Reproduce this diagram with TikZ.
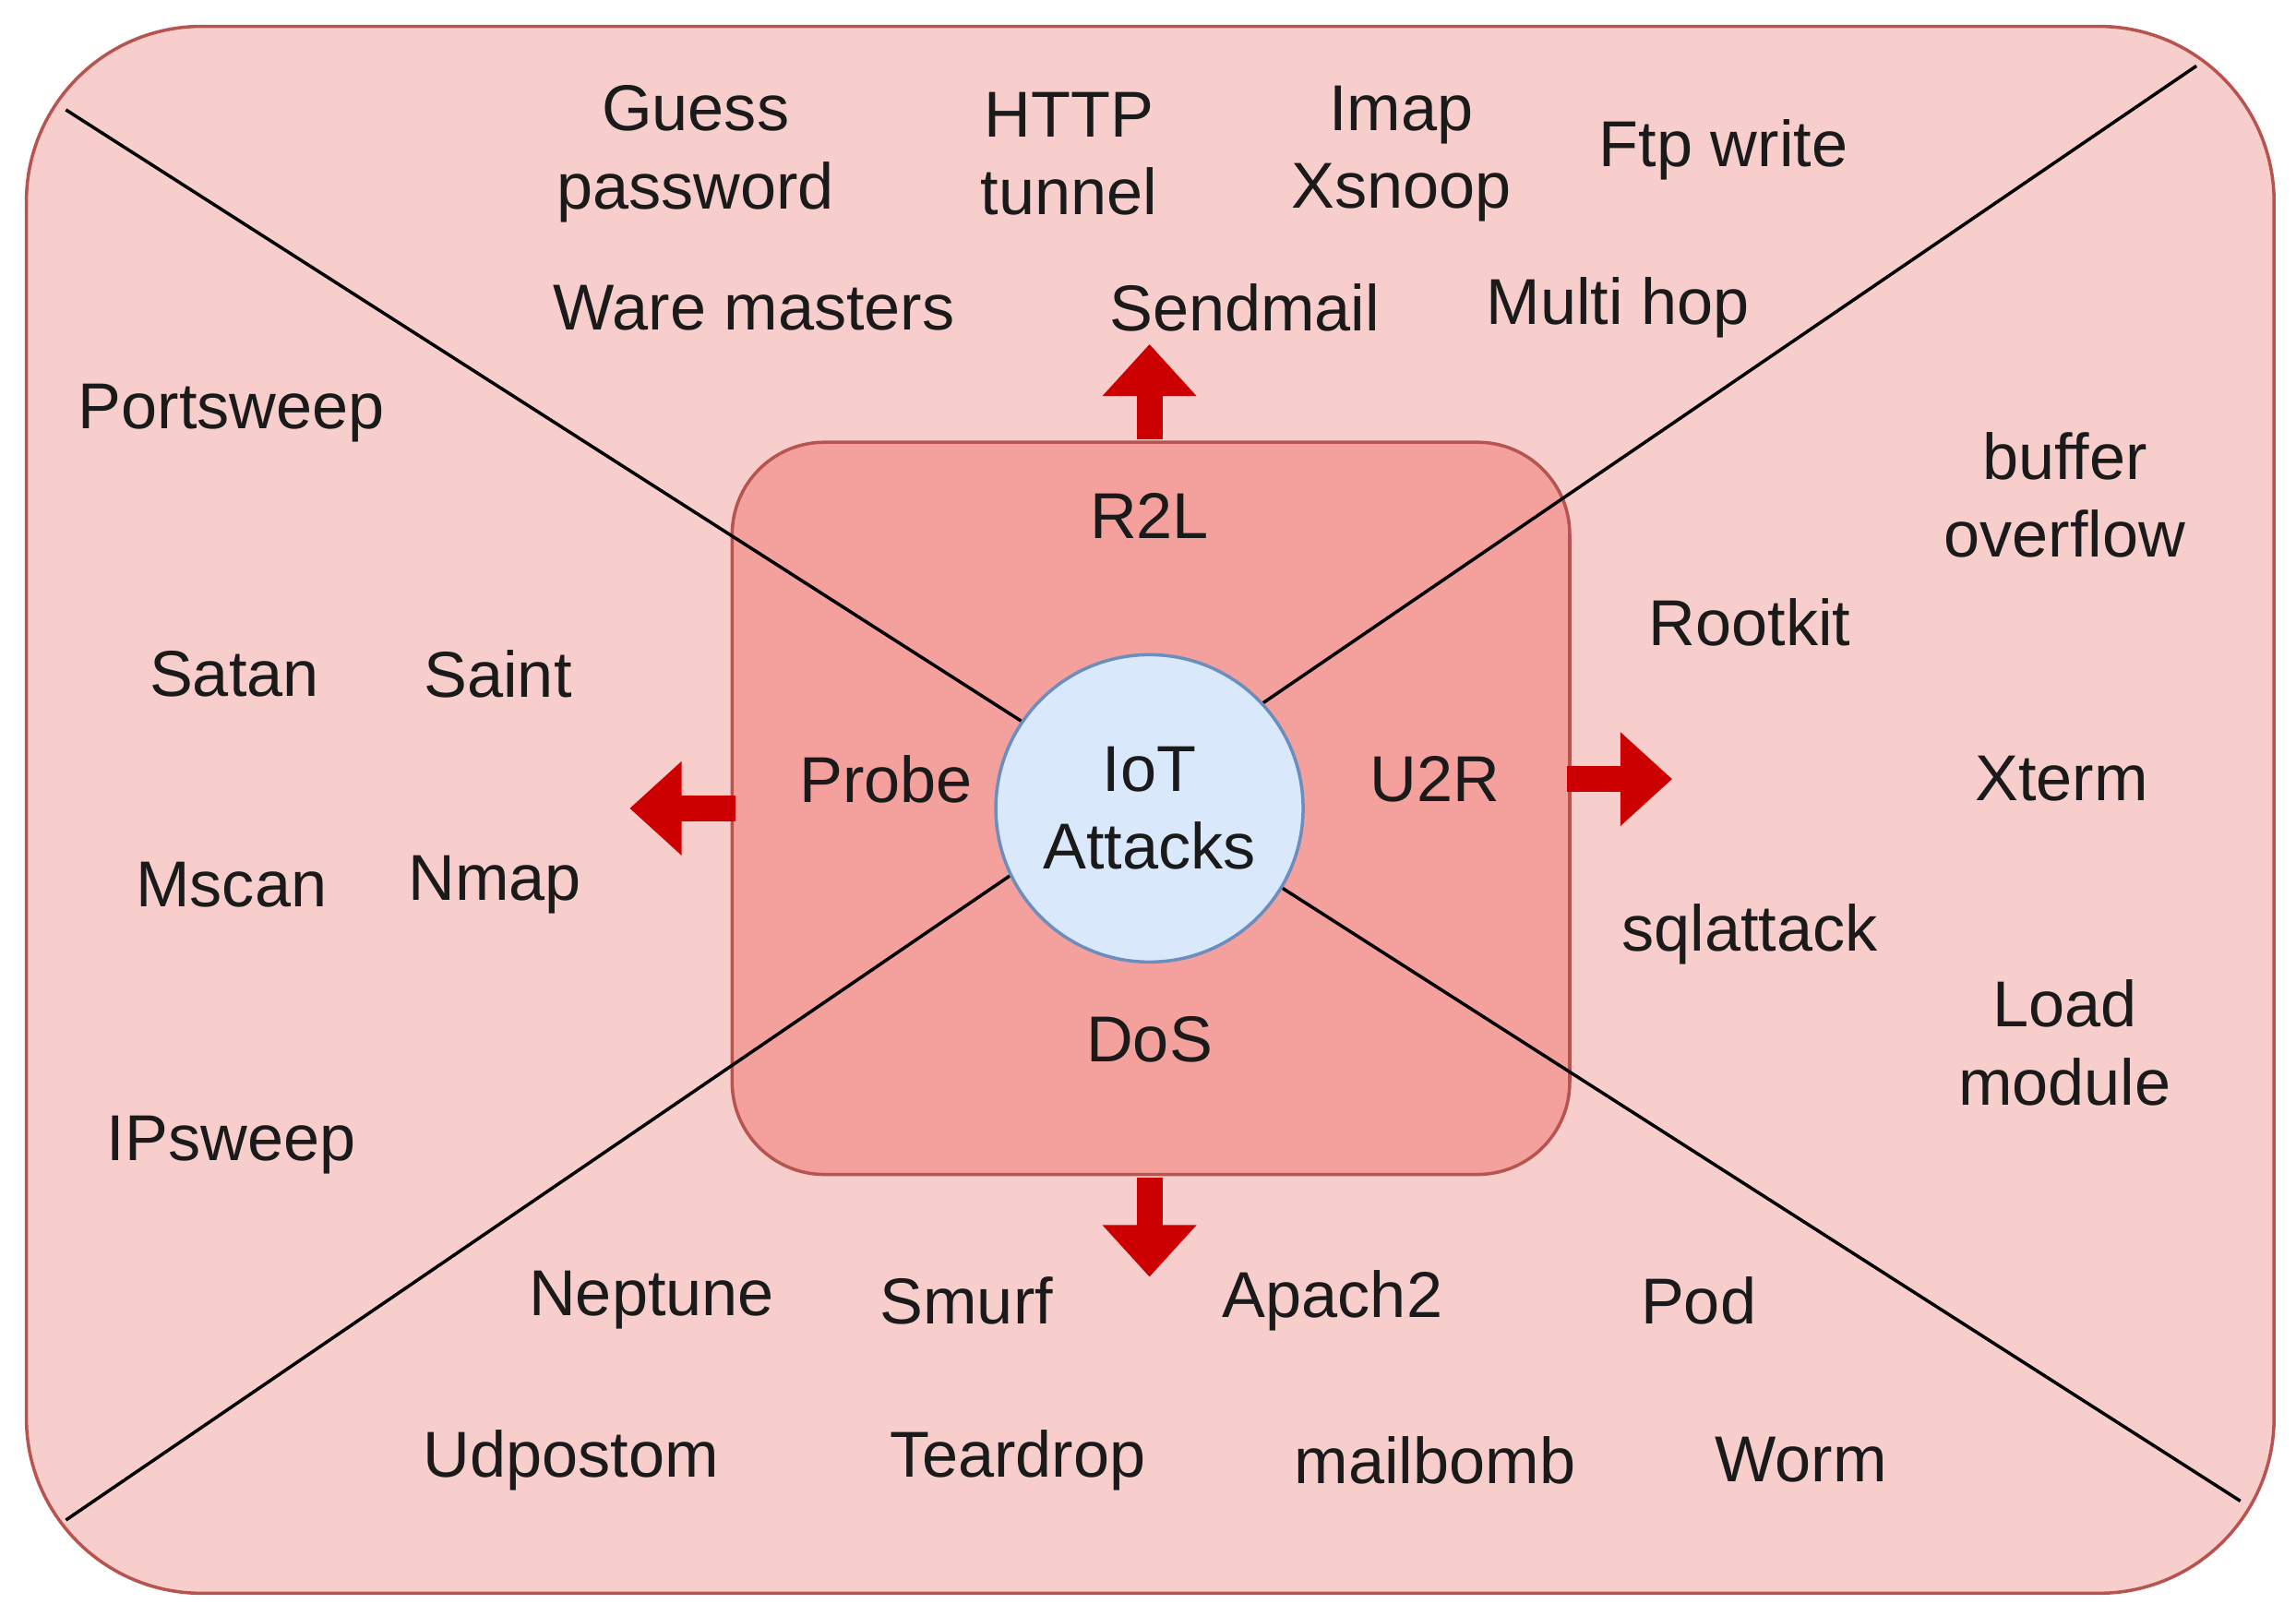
\documentclass[tikz,border=0pt]{standalone}
\usepackage{fontspec}
\setmainfont{Liberation Sans}
\usetikzlibrary{arrows.meta}
\definecolor{outerfill}{HTML}{F8CECC}
\definecolor{outerdraw}{HTML}{B85450}
\definecolor{innerfill}{HTML}{F4A09C}
\definecolor{circfill}{HTML}{DAE8FC}
\definecolor{circdraw}{HTML}{6C8EBF}
\definecolor{arrred}{HTML}{CC0000}
\definecolor{txt}{HTML}{1A1A1A}
\begin{document}
\begin{tikzpicture}[x=0.015867cm,y=-0.015867cm,
  lbl/.style={text=txt,font=\fontsize{20}{24}\selectfont,align=center,inner sep=0pt},
  bigarrow/.style={arrred,line width=8pt,-{Triangle[length=16pt,width=28pt]}}]
\useasboundingbox (0,0) rectangle (1568,1103);
\fill[white] (0,0) rectangle (1568,1103);
\draw[fill=outerfill,draw=outerdraw,line width=1pt,rounded corners=1.9cm] (18,18) rectangle (1553,1088);
\draw[fill=innerfill,draw=outerdraw,line width=1pt,rounded corners=1cm] (500,302) rectangle (1072,802);
\coordinate (d1a) at (45,75); \coordinate (d1b) at (1530,1025);
\coordinate (d2a) at (1500,45); \coordinate (d2b) at (45,1038);
\draw[line width=1pt] (d1a) -- (d1b);
\draw[line width=1pt] (d2a) -- (d2b);
\node[circle,draw=circdraw,fill=circfill,line width=1pt,minimum size=210\pgflinewidth*0+3.33cm,lbl] (iot) at (785,552) {IoT\\Attacks};
\coordinate (t0) at (785,300); \coordinate (t1) at (785,235);
\coordinate (l0) at (502,552); \coordinate (l1) at (430,552);
\coordinate (r0) at (1070,532); \coordinate (r1) at (1142,532);
\coordinate (b0) at (785,804); \coordinate (b1) at (785,872);
\draw[bigarrow] (t0) -- (t1);
\draw[bigarrow] (l0) -- (l1);
\draw[bigarrow] (r0) -- (r1);
\draw[bigarrow] (b0) -- (b1);
\node[lbl] (n1) at (475,105) {Guess\\password};
\node[lbl] (n2) at (730,105) {HTTP\\tunnel};
\node[lbl] (n3) at (957,105) {Imap\\Xsnoop};
\node[lbl] (n4) at (1177,102) {Ftp write};
\node[lbl] (n5) at (515,210) {Ware masters};
\node[lbl] (n6) at (850,210) {Sendmail};
\node[lbl] (n7) at (1105,210) {Multi hop};
\node[lbl] (n8) at (158,282) {Portsweep};
\node[lbl] (n9) at (1410,338) {buffer\\overflow};
\node[lbl] (n10) at (785,352) {R2L};
\node[lbl] (n11) at (1195,425) {Rootkit};
\node[lbl] (n12) at (160,460) {Satan};
\node[lbl] (n13) at (340,460) {Saint};
\node[lbl] (n14) at (605,532) {Probe};
\node[lbl] (n15) at (980,532) {U2R};
\node[lbl] (n16) at (1408,532) {Xterm};
\node[lbl] (n17) at (158,604) {Mscan};
\node[lbl] (n18) at (338,604) {Nmap};
\node[lbl] (n19) at (1195,638) {sqlattack};
\node[lbl] (n20) at (1410,712) {Load\\module};
\node[lbl] (n21) at (785,710) {DoS};
\node[lbl] (n22) at (158,782) {IPsweep};
\node[lbl] (n23) at (445,888) {Neptune};
\node[lbl] (n24) at (660,888) {Smurf};
\node[lbl] (n25) at (910,888) {Apach2};
\node[lbl] (n26) at (1160,888) {Pod};
\node[lbl] (n27) at (390,997) {Udpostom};
\node[lbl] (n28) at (695,997) {Teardrop};
\node[lbl] (n29) at (980,997) {mailbomb};
\node[lbl] (n30) at (1230,997) {Worm};
\end{tikzpicture}
\end{document}
